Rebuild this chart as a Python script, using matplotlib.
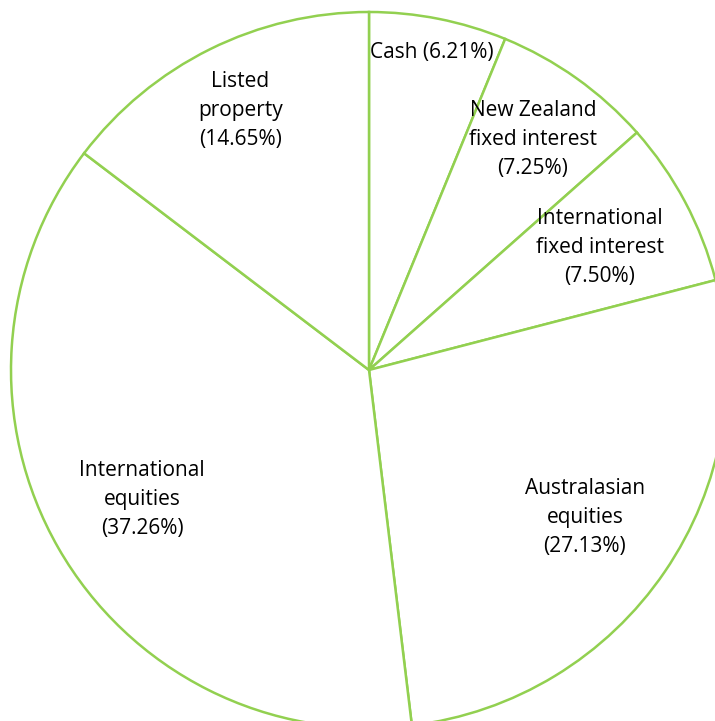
import matplotlib
matplotlib.use("Agg")
import matplotlib.pyplot as plt
import numpy as np

categories = ["Cash", "New Zealand\nfixed interest", "International\nfixed interest",
              "Australasian\nequities", "International\nequities", "Listed\nproperty"]
values = [6.21, 7.25, 7.50, 27.13, 37.26, 14.65]

label_radii = [0.905, 0.79, 0.73, 0.73, 0.73, 0.81]
edge_color = "#92D050"

W, H = 715, 721
cx, cy, R = 369, 370, 358

fig = plt.figure(figsize=(W / 100, H / 100), dpi=100)
ax = fig.add_axes([0, 0, 1, 1])

labels = [f"{c} ({v:.2f}%)" if c == "Cash" else f"{c}\n({v:.2f}%)" for c, v in zip(categories, values)]

wedges, texts = ax.pie(values, labels=labels, startangle=90, counterclock=False,
                       radius=1.0, colors=["white"] * len(values),
                       wedgeprops=dict(edgecolor=edge_color, linewidth=1.8),
                       labeldistance=0.7,
                       textprops=dict(fontsize=15, family="Open Sans", color="#000000",
                                      ha="center", va="center", linespacing=1.5))

for w, t, r in zip(wedges, texts, label_radii):
    ang = np.deg2rad((w.theta1 + w.theta2) / 2)
    t.set_position((r * np.cos(ang), r * np.sin(ang)))
    t.set_ha("center")
    t.set_va("center")
    t.set_multialignment("center")

ax.set_xlim(-cx / R, (W - cx) / R)
ax.set_ylim((cy - H) / R, cy / R)
ax.set_aspect("equal")
ax.axis("off")

fig.savefig("out.png", dpi=100)
